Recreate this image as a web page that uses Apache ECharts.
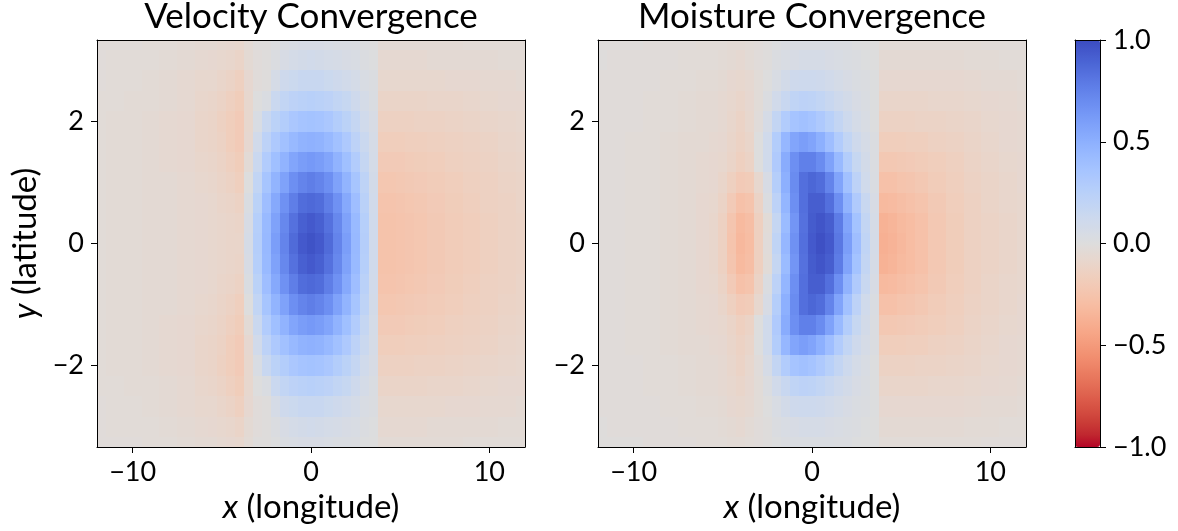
<!DOCTYPE html>
<html><head><meta charset="utf-8">
<script src="https://cdn.jsdelivr.net/npm/echarts@6/dist/echarts.min.js"></script>
<style>html,body{margin:0;padding:0;background:#fff}#c{width:1178px;height:531px}</style>
</head><body><div id="c"></div>
<script>
// ---------- data ----------
const titles = ['Velocity Convergence', 'Moisture Convergence'];
const xTicks = [-10, 0, 10];
const yTicks = [-2, 0, 2];
const cbTicks = [-1, -0.5, 0, 0.5, 1];
// cell centres (longitude) and (latitude, top row first)
const xCenters = [-12,-11,-10,-9,-8,-7,-6,-5.5,-5,-4.5,-4,-3.5,-3,-2.5,-2,-1.5,-1,-0.5,0,0.5,1,1.5,2,2.5,3,3.5,4,4.5,5,5.5,6,7,8,9,10,11,12];
const yCenters = [3.333,3,2.667,2.333,2,1.667,1.333,1,0.667,0.333,0,-0.333,-0.667,-1,-1.333,-1.667,-2,-2.333,-2.667,-3,-3.333];

const velocity = [
[-0.02,-0.02,-0.02,-0.03,-0.03,-0.04,-0.05,-0.05,-0.06,-0.07,-0.08,-0.04,-0.01,-0.01,0.01,0.03,0.04,0.05,0.05,0.05,0.04,0.03,0.03,0.02,0.01,0.00,-0.04,-0.04,-0.04,-0.04,-0.04,-0.04,-0.04,-0.03,-0.03,-0.03,-0.03],
[-0.02,-0.03,-0.03,-0.03,-0.04,-0.05,-0.06,-0.07,-0.08,-0.09,-0.11,-0.05,-0.02,-0.01,0.02,0.05,0.07,0.08,0.09,0.08,0.07,0.06,0.05,0.04,0.02,0.01,-0.06,-0.06,-0.06,-0.06,-0.06,-0.05,-0.05,-0.05,-0.05,-0.04,-0.04],
[-0.02,-0.03,-0.03,-0.04,-0.05,-0.06,-0.08,-0.08,-0.10,-0.12,-0.15,-0.07,-0.02,-0.01,0.06,0.11,0.13,0.15,0.15,0.15,0.13,0.11,0.09,0.07,0.04,0.02,-0.08,-0.08,-0.08,-0.08,-0.08,-0.08,-0.07,-0.07,-0.06,-0.06,-0.05],
[-0.03,-0.03,-0.04,-0.04,-0.05,-0.06,-0.09,-0.10,-0.12,-0.15,-0.18,-0.08,0.00,0.03,0.14,0.19,0.22,0.24,0.25,0.24,0.22,0.19,0.16,0.11,0.07,0.03,-0.11,-0.11,-0.11,-0.11,-0.11,-0.10,-0.10,-0.09,-0.08,-0.07,-0.07],
[-0.03,-0.04,-0.04,-0.05,-0.06,-0.07,-0.10,-0.11,-0.14,-0.17,-0.20,-0.08,0.04,0.15,0.23,0.28,0.33,0.36,0.37,0.36,0.33,0.28,0.23,0.17,0.10,0.05,-0.14,-0.14,-0.14,-0.14,-0.13,-0.13,-0.12,-0.11,-0.10,-0.09,-0.08],
[-0.03,-0.04,-0.04,-0.05,-0.06,-0.07,-0.10,-0.11,-0.13,-0.17,-0.20,-0.07,0.09,0.22,0.31,0.38,0.44,0.48,0.49,0.48,0.44,0.38,0.31,0.22,0.14,0.06,-0.17,-0.17,-0.17,-0.16,-0.16,-0.15,-0.14,-0.13,-0.12,-0.10,-0.09],
[-0.03,-0.04,-0.04,-0.05,-0.06,-0.07,-0.09,-0.10,-0.12,-0.15,-0.18,-0.04,0.14,0.29,0.39,0.48,0.56,0.61,0.63,0.61,0.56,0.48,0.39,0.29,0.17,0.07,-0.20,-0.20,-0.20,-0.19,-0.18,-0.17,-0.15,-0.14,-0.13,-0.11,-0.10],
[-0.03,-0.04,-0.04,-0.05,-0.05,-0.06,-0.08,-0.09,-0.11,-0.13,-0.16,0.00,0.19,0.35,0.47,0.58,0.68,0.74,0.77,0.74,0.68,0.58,0.47,0.35,0.21,0.08,-0.23,-0.23,-0.22,-0.21,-0.20,-0.19,-0.17,-0.15,-0.14,-0.12,-0.11],
[-0.03,-0.04,-0.04,-0.05,-0.05,-0.06,-0.07,-0.08,-0.10,-0.11,-0.13,0.03,0.23,0.40,0.54,0.67,0.77,0.85,0.87,0.85,0.77,0.67,0.54,0.40,0.24,0.09,-0.25,-0.25,-0.24,-0.23,-0.22,-0.20,-0.18,-0.16,-0.14,-0.13,-0.11],
[-0.03,-0.04,-0.04,-0.05,-0.05,-0.06,-0.07,-0.08,-0.09,-0.10,-0.11,0.05,0.26,0.43,0.58,0.72,0.83,0.91,0.94,0.91,0.83,0.72,0.58,0.43,0.26,0.10,-0.26,-0.26,-0.25,-0.24,-0.23,-0.21,-0.19,-0.17,-0.15,-0.13,-0.12],
[-0.03,-0.04,-0.04,-0.05,-0.05,-0.06,-0.07,-0.08,-0.09,-0.10,-0.10,0.06,0.27,0.44,0.60,0.74,0.86,0.94,0.97,0.94,0.86,0.74,0.60,0.44,0.27,0.10,-0.26,-0.26,-0.25,-0.24,-0.23,-0.21,-0.19,-0.17,-0.15,-0.13,-0.12],
[-0.03,-0.04,-0.04,-0.05,-0.05,-0.06,-0.07,-0.08,-0.09,-0.10,-0.11,0.05,0.26,0.43,0.58,0.72,0.83,0.91,0.94,0.91,0.83,0.72,0.58,0.43,0.26,0.10,-0.26,-0.26,-0.25,-0.24,-0.23,-0.21,-0.19,-0.17,-0.15,-0.13,-0.12],
[-0.03,-0.04,-0.04,-0.05,-0.05,-0.06,-0.07,-0.08,-0.10,-0.11,-0.13,0.03,0.23,0.40,0.54,0.67,0.77,0.85,0.87,0.85,0.77,0.67,0.54,0.40,0.24,0.09,-0.25,-0.25,-0.24,-0.23,-0.22,-0.20,-0.18,-0.16,-0.14,-0.13,-0.11],
[-0.03,-0.04,-0.04,-0.05,-0.05,-0.06,-0.08,-0.09,-0.11,-0.13,-0.16,0.00,0.19,0.35,0.47,0.58,0.68,0.74,0.77,0.74,0.68,0.58,0.47,0.35,0.21,0.08,-0.23,-0.23,-0.22,-0.21,-0.20,-0.19,-0.17,-0.15,-0.14,-0.12,-0.11],
[-0.03,-0.04,-0.04,-0.05,-0.06,-0.07,-0.09,-0.10,-0.12,-0.15,-0.18,-0.04,0.14,0.29,0.39,0.48,0.56,0.61,0.63,0.61,0.56,0.48,0.39,0.29,0.17,0.07,-0.20,-0.20,-0.20,-0.19,-0.18,-0.17,-0.15,-0.14,-0.13,-0.11,-0.10],
[-0.03,-0.04,-0.04,-0.05,-0.06,-0.07,-0.10,-0.11,-0.13,-0.17,-0.20,-0.07,0.09,0.22,0.31,0.38,0.44,0.48,0.49,0.48,0.44,0.38,0.31,0.22,0.14,0.06,-0.17,-0.17,-0.17,-0.16,-0.16,-0.15,-0.14,-0.13,-0.12,-0.10,-0.09],
[-0.03,-0.04,-0.04,-0.05,-0.06,-0.07,-0.10,-0.11,-0.14,-0.17,-0.20,-0.08,0.04,0.15,0.23,0.28,0.33,0.36,0.37,0.36,0.33,0.28,0.23,0.17,0.10,0.05,-0.14,-0.14,-0.14,-0.14,-0.13,-0.13,-0.12,-0.11,-0.10,-0.09,-0.08],
[-0.03,-0.03,-0.04,-0.04,-0.05,-0.06,-0.09,-0.10,-0.12,-0.15,-0.18,-0.08,0.00,0.03,0.14,0.19,0.22,0.24,0.25,0.24,0.22,0.19,0.16,0.11,0.07,0.03,-0.11,-0.11,-0.11,-0.11,-0.11,-0.10,-0.10,-0.09,-0.08,-0.07,-0.07],
[-0.02,-0.03,-0.03,-0.04,-0.05,-0.06,-0.08,-0.08,-0.10,-0.12,-0.15,-0.07,-0.02,-0.01,0.06,0.11,0.13,0.15,0.15,0.15,0.13,0.11,0.09,0.07,0.04,0.02,-0.08,-0.08,-0.08,-0.08,-0.08,-0.08,-0.07,-0.07,-0.06,-0.06,-0.05],
[-0.02,-0.03,-0.03,-0.03,-0.04,-0.05,-0.06,-0.07,-0.08,-0.09,-0.11,-0.05,-0.02,-0.01,0.02,0.05,0.07,0.08,0.09,0.08,0.07,0.06,0.05,0.04,0.02,0.01,-0.06,-0.06,-0.06,-0.06,-0.06,-0.05,-0.05,-0.05,-0.05,-0.04,-0.04],
[-0.02,-0.02,-0.02,-0.03,-0.03,-0.04,-0.05,-0.05,-0.06,-0.07,-0.08,-0.04,-0.01,-0.01,0.01,0.03,0.04,0.05,0.05,0.05,0.04,0.03,0.03,0.02,0.01,0.00,-0.04,-0.04,-0.04,-0.04,-0.04,-0.04,-0.04,-0.03,-0.03,-0.03,-0.03]
];

const moisture = [
[-0.01,-0.01,-0.01,-0.02,-0.02,-0.02,-0.03,-0.03,-0.03,-0.04,-0.04,-0.03,-0.02,-0.01,0.01,0.02,0.03,0.03,0.03,0.03,0.03,0.02,0.02,0.01,0.00,0.00,-0.03,-0.03,-0.03,-0.03,-0.03,-0.03,-0.03,-0.03,-0.02,-0.02,-0.02],
[-0.01,-0.02,-0.02,-0.02,-0.02,-0.03,-0.03,-0.03,-0.04,-0.05,-0.06,-0.04,-0.02,-0.01,0.02,0.04,0.05,0.06,0.06,0.06,0.05,0.04,0.03,0.02,0.01,0.00,-0.05,-0.05,-0.05,-0.05,-0.05,-0.05,-0.05,-0.04,-0.04,-0.03,-0.03],
[-0.02,-0.02,-0.02,-0.02,-0.03,-0.03,-0.04,-0.04,-0.05,-0.07,-0.08,-0.06,-0.03,0.00,0.04,0.08,0.11,0.12,0.12,0.11,0.09,0.07,0.05,0.03,0.02,0.01,-0.07,-0.07,-0.07,-0.07,-0.07,-0.07,-0.07,-0.06,-0.05,-0.05,-0.04],
[-0.02,-0.02,-0.02,-0.03,-0.03,-0.04,-0.05,-0.05,-0.06,-0.08,-0.10,-0.07,-0.03,0.02,0.09,0.15,0.20,0.22,0.21,0.19,0.15,0.11,0.08,0.05,0.03,0.01,-0.10,-0.10,-0.10,-0.10,-0.10,-0.09,-0.09,-0.08,-0.07,-0.06,-0.05],
[-0.02,-0.02,-0.02,-0.03,-0.03,-0.04,-0.05,-0.05,-0.06,-0.09,-0.12,-0.08,-0.02,0.06,0.18,0.29,0.36,0.38,0.36,0.31,0.25,0.18,0.12,0.07,0.04,0.01,-0.13,-0.13,-0.13,-0.13,-0.12,-0.12,-0.11,-0.10,-0.08,-0.07,-0.06],
[-0.02,-0.02,-0.03,-0.03,-0.04,-0.05,-0.05,-0.06,-0.07,-0.10,-0.13,-0.10,0.00,0.10,0.28,0.45,0.56,0.60,0.57,0.50,0.40,0.29,0.19,0.11,0.06,0.02,-0.17,-0.17,-0.17,-0.16,-0.16,-0.14,-0.13,-0.11,-0.09,-0.07,-0.06],
[-0.02,-0.02,-0.03,-0.03,-0.04,-0.05,-0.06,-0.07,-0.08,-0.11,-0.15,-0.12,0.00,0.10,0.30,0.52,0.68,0.76,0.76,0.70,0.58,0.43,0.28,0.16,0.08,0.02,-0.22,-0.22,-0.21,-0.20,-0.19,-0.17,-0.15,-0.12,-0.10,-0.08,-0.07],
[-0.02,-0.02,-0.03,-0.03,-0.04,-0.05,-0.06,-0.07,-0.10,-0.15,-0.20,-0.19,-0.08,0.05,0.27,0.50,0.70,0.84,0.88,0.85,0.74,0.57,0.38,0.22,0.10,0.03,-0.27,-0.27,-0.25,-0.24,-0.22,-0.19,-0.16,-0.13,-0.11,-0.09,-0.07],
[-0.02,-0.02,-0.03,-0.03,-0.04,-0.05,-0.07,-0.08,-0.12,-0.20,-0.27,-0.25,-0.12,0.02,0.22,0.46,0.68,0.84,0.92,0.92,0.84,0.68,0.48,0.30,0.15,0.05,-0.32,-0.31,-0.29,-0.27,-0.25,-0.21,-0.17,-0.14,-0.11,-0.09,-0.08],
[-0.02,-0.02,-0.03,-0.03,-0.04,-0.05,-0.07,-0.09,-0.14,-0.24,-0.32,-0.29,-0.15,-0.03,0.17,0.42,0.65,0.83,0.93,0.96,0.92,0.78,0.57,0.37,0.18,0.06,-0.37,-0.35,-0.32,-0.30,-0.27,-0.22,-0.18,-0.14,-0.12,-0.10,-0.08],
[-0.02,-0.02,-0.03,-0.03,-0.04,-0.05,-0.07,-0.09,-0.14,-0.25,-0.33,-0.30,-0.15,-0.02,0.20,0.45,0.67,0.84,0.94,0.98,0.94,0.80,0.60,0.40,0.20,0.07,-0.38,-0.36,-0.33,-0.30,-0.27,-0.22,-0.18,-0.14,-0.12,-0.10,-0.08],
[-0.02,-0.02,-0.03,-0.03,-0.04,-0.05,-0.07,-0.09,-0.14,-0.24,-0.32,-0.29,-0.15,-0.03,0.17,0.42,0.65,0.83,0.93,0.96,0.92,0.78,0.57,0.37,0.18,0.06,-0.37,-0.35,-0.32,-0.30,-0.27,-0.22,-0.18,-0.14,-0.12,-0.10,-0.08],
[-0.02,-0.02,-0.03,-0.03,-0.04,-0.05,-0.07,-0.08,-0.12,-0.20,-0.27,-0.25,-0.12,0.02,0.22,0.46,0.68,0.84,0.92,0.92,0.84,0.68,0.48,0.30,0.15,0.05,-0.32,-0.31,-0.29,-0.27,-0.25,-0.21,-0.17,-0.14,-0.11,-0.09,-0.08],
[-0.02,-0.02,-0.03,-0.03,-0.04,-0.05,-0.06,-0.07,-0.10,-0.15,-0.20,-0.19,-0.08,0.05,0.27,0.50,0.70,0.84,0.88,0.85,0.74,0.57,0.38,0.22,0.10,0.03,-0.27,-0.27,-0.25,-0.24,-0.22,-0.19,-0.16,-0.13,-0.11,-0.09,-0.07],
[-0.02,-0.02,-0.03,-0.03,-0.04,-0.05,-0.06,-0.07,-0.08,-0.11,-0.15,-0.12,0.00,0.10,0.30,0.52,0.68,0.76,0.76,0.70,0.58,0.43,0.28,0.16,0.08,0.02,-0.22,-0.22,-0.21,-0.20,-0.19,-0.17,-0.15,-0.12,-0.10,-0.08,-0.07],
[-0.02,-0.02,-0.03,-0.03,-0.04,-0.05,-0.05,-0.06,-0.07,-0.10,-0.13,-0.10,0.00,0.10,0.28,0.45,0.56,0.60,0.57,0.50,0.40,0.29,0.19,0.11,0.06,0.02,-0.17,-0.17,-0.17,-0.16,-0.16,-0.14,-0.13,-0.11,-0.09,-0.07,-0.06],
[-0.02,-0.02,-0.02,-0.03,-0.03,-0.04,-0.05,-0.05,-0.06,-0.09,-0.12,-0.08,-0.02,0.06,0.18,0.29,0.36,0.38,0.36,0.31,0.25,0.18,0.12,0.07,0.04,0.01,-0.13,-0.13,-0.13,-0.13,-0.12,-0.12,-0.11,-0.10,-0.08,-0.07,-0.06],
[-0.02,-0.02,-0.02,-0.03,-0.03,-0.04,-0.05,-0.05,-0.06,-0.08,-0.10,-0.07,-0.03,0.02,0.09,0.15,0.20,0.22,0.21,0.19,0.15,0.11,0.08,0.05,0.03,0.01,-0.10,-0.10,-0.10,-0.10,-0.10,-0.09,-0.09,-0.08,-0.07,-0.06,-0.05],
[-0.02,-0.02,-0.02,-0.02,-0.03,-0.03,-0.04,-0.04,-0.05,-0.07,-0.08,-0.06,-0.03,0.00,0.04,0.08,0.11,0.12,0.12,0.11,0.09,0.07,0.05,0.03,0.02,0.01,-0.07,-0.07,-0.07,-0.07,-0.07,-0.07,-0.07,-0.06,-0.05,-0.05,-0.04],
[-0.01,-0.02,-0.02,-0.02,-0.02,-0.03,-0.03,-0.03,-0.04,-0.05,-0.06,-0.04,-0.02,-0.01,0.02,0.04,0.05,0.06,0.06,0.06,0.05,0.04,0.03,0.02,0.01,0.00,-0.05,-0.05,-0.05,-0.05,-0.05,-0.05,-0.05,-0.04,-0.04,-0.03,-0.03],
[-0.01,-0.01,-0.01,-0.02,-0.02,-0.02,-0.03,-0.03,-0.03,-0.04,-0.04,-0.03,-0.02,-0.01,0.01,0.02,0.03,0.03,0.03,0.03,0.03,0.02,0.02,0.01,0.00,0.00,-0.03,-0.03,-0.03,-0.03,-0.03,-0.03,-0.03,-0.03,-0.02,-0.02,-0.02]
];

// coolwarm colour stops, ordered from value -1 (red) to +1 (blue)
const coolwarmRev = ['#b40426','#c0282f','#cb3e38','#d55042','#de604d','#e57058','#ec7f63','#f18d6f','#f49a7b','#f7a688','#f7b194','#f7bba0','#f5c4ad','#f1ccb9','#ecd3c5','#e5d8d1','#dddddd','#d5dbe6','#ccd9ee','#c2d5f4','#b8d0f9','#aec9fd','#a3c2ff','#98b9ff','#8db0fe','#82a5fb','#779af7','#6c8ef1','#6282ea','#5875e1','#4d68d7','#445acc','#3b4cc0'];

// ---------- build cell table ----------
const X_MIN = -12, X_MAX = 12, Y_MIN = -3.333, Y_MAX = 3.333;
function bounds(arr, i) {
  const lo = i === 0 ? arr[0] - (arr[1] - arr[0]) / 2 : (arr[i - 1] + arr[i]) / 2;
  const hi = i === arr.length - 1 ? arr[i] + (arr[i] - arr[i - 1]) / 2 : (arr[i] + arr[i + 1]) / 2;
  return [Math.min(lo, hi), Math.max(lo, hi)];
}
function buildCells(grid) {
  const out = [];
  yCenters.forEach((y, r) => {
    const [y0, y1] = bounds(yCenters, r);
    xCenters.forEach((x, c) => {
      const [x0, x1] = bounds(xCenters, c);
      out.push([x, y, grid[r][c], x0, x1, y0, y1]);
    });
  });
  return out;
}
function renderCell(params, api) {
  const a = api.coord([api.value(3), api.value(6)]);
  const b = api.coord([api.value(4), api.value(5)]);
  const cs = params.coordSys;
  const L = Math.round(Math.max(Math.min(a[0], b[0]), cs.x));
  const R = Math.round(Math.min(Math.max(a[0], b[0]), cs.x + cs.width));
  const T = Math.round(Math.max(Math.min(a[1], b[1]), cs.y));
  const B = Math.round(Math.min(Math.max(a[1], b[1]), cs.y + cs.height));
  if (R <= L || B <= T) return null;
  return { type: 'rect', shape: { x: L, y: T, width: R - L, height: B - T }, style: { fill: api.visual('color') } };
}

const FONT = 'Lato';
const fmtMinus = v => String(v).replace('-', '\u2212');
const black = '#000';
const tickFont = { fontFamily: FONT, fontSize: 27, color: black };
const nameFont = { fontFamily: FONT, fontSize: 33, color: black, rich: { i: { fontFamily: FONT, fontSize: 33, fontStyle: 'italic', color: black } } };

function mainX(gi, name) {
  return {
    type: 'value', gridIndex: gi, position: 'bottom', min: X_MIN, max: X_MAX, z: 5,
    axisLine: { show: true, onZero: false, lineStyle: { color: black, width: 1 } },
    axisTick: { show: true, length: 6, customValues: xTicks, lineStyle: { color: black, width: 1 } },
    axisLabel: Object.assign({ customValues: xTicks, formatter: fmtMinus, margin: 12 }, tickFont),
    splitLine: { show: false },
    name: name, nameLocation: 'middle', nameGap: 43, nameTextStyle: nameFont
  };
}
function topX(gi, title) {
  return {
    type: 'value', gridIndex: gi, position: 'top', min: X_MIN, max: X_MAX, z: 5,
    axisLine: { show: true, onZero: false, lineStyle: { color: black, width: 1 } },
    axisTick: { show: false }, axisLabel: { show: false }, splitLine: { show: false },
    name: title, nameLocation: 'middle', nameGap: 6,
    nameTextStyle: { fontFamily: FONT, fontSize: 35, color: black }
  };
}
function mainY(gi, name) {
  return {
    type: 'value', gridIndex: gi, position: 'left', min: Y_MIN, max: Y_MAX, z: 5,
    axisLine: { show: true, onZero: false, lineStyle: { color: black, width: 1 } },
    axisTick: { show: true, length: 6, customValues: yTicks, lineStyle: { color: black, width: 1 } },
    axisLabel: Object.assign({ customValues: yTicks, formatter: fmtMinus, margin: 13 }, tickFont),
    splitLine: { show: false },
    name: name || '', nameLocation: 'middle', nameGap: 55, nameRotate: 90, nameTextStyle: nameFont
  };
}
function frameY(gi, pos, min, max) {
  return {
    type: 'value', gridIndex: gi, position: pos, min: min, max: max, z: 5,
    axisLine: { show: true, onZero: false, lineStyle: { color: black, width: 1 } },
    axisTick: { show: false }, axisLabel: { show: false }, splitLine: { show: false }
  };
}
function frameX(gi, pos) {
  return {
    type: 'value', gridIndex: gi, position: pos, min: 0, max: 1, z: 5,
    axisLine: { show: true, onZero: false, lineStyle: { color: black, width: 1 } },
    axisTick: { show: false }, axisLabel: { show: false }, splitLine: { show: false }
  };
}

const chart = echarts.init(document.getElementById('c'), null, { renderer: 'canvas' });
chart.setOption({
  animation: false,
  backgroundColor: '#fff',
  grid: [
    { left: 97, top: 40, width: 428, height: 407, outerBoundsMode: 'none' },
    { left: 598, top: 40, width: 428, height: 407, outerBoundsMode: 'none' },
    { left: 1075, top: 40, width: 25, height: 407, outerBoundsMode: 'none' }
  ],
  xAxis: [
    mainX(0, '{i|x} (longitude)'), topX(0, titles[0]),
    mainX(1, '{i|x} (longitude)'), topX(1, titles[1]),
    frameX(2, 'bottom'), frameX(2, 'top')
  ],
  yAxis: [
    mainY(0, '{i|y} (latitude)'), frameY(0, 'right', Y_MIN, Y_MAX),
    mainY(1, ''), frameY(1, 'right', Y_MIN, Y_MAX),
    frameY(2, 'left', -1, 1),
    {
      type: 'value', gridIndex: 2, position: 'right', min: -1, max: 1, z: 5,
      axisLine: { show: true, onZero: false, lineStyle: { color: black, width: 1 } },
      axisTick: { show: true, length: 6, customValues: cbTicks, lineStyle: { color: black, width: 1 } },
      axisLabel: Object.assign({ customValues: cbTicks, formatter: v => fmtMinus(v.toFixed(1)), margin: 13 }, tickFont),
      splitLine: { show: false }
    }
  ],
  visualMap: {
    type: 'continuous', min: -1, max: 1, dimension: 2, seriesIndex: [0, 1],
    calculable: false, realtime: false, orient: 'vertical',
    left: 1075, top: 40, itemWidth: 25, itemHeight: 407, padding: 0,
    text: null, showLabel: false,
    inRange: { color: coolwarmRev }
  },
  series: [
    { type: 'custom', xAxisIndex: 0, yAxisIndex: 0, data: buildCells(velocity), renderItem: renderCell, encode: { x: 0, y: 1 }, silent: true, z: 2 },
    { type: 'custom', xAxisIndex: 2, yAxisIndex: 2, data: buildCells(moisture), renderItem: renderCell, encode: { x: 0, y: 1 }, silent: true, z: 2 }
  ]
});
</script>
</body></html>
